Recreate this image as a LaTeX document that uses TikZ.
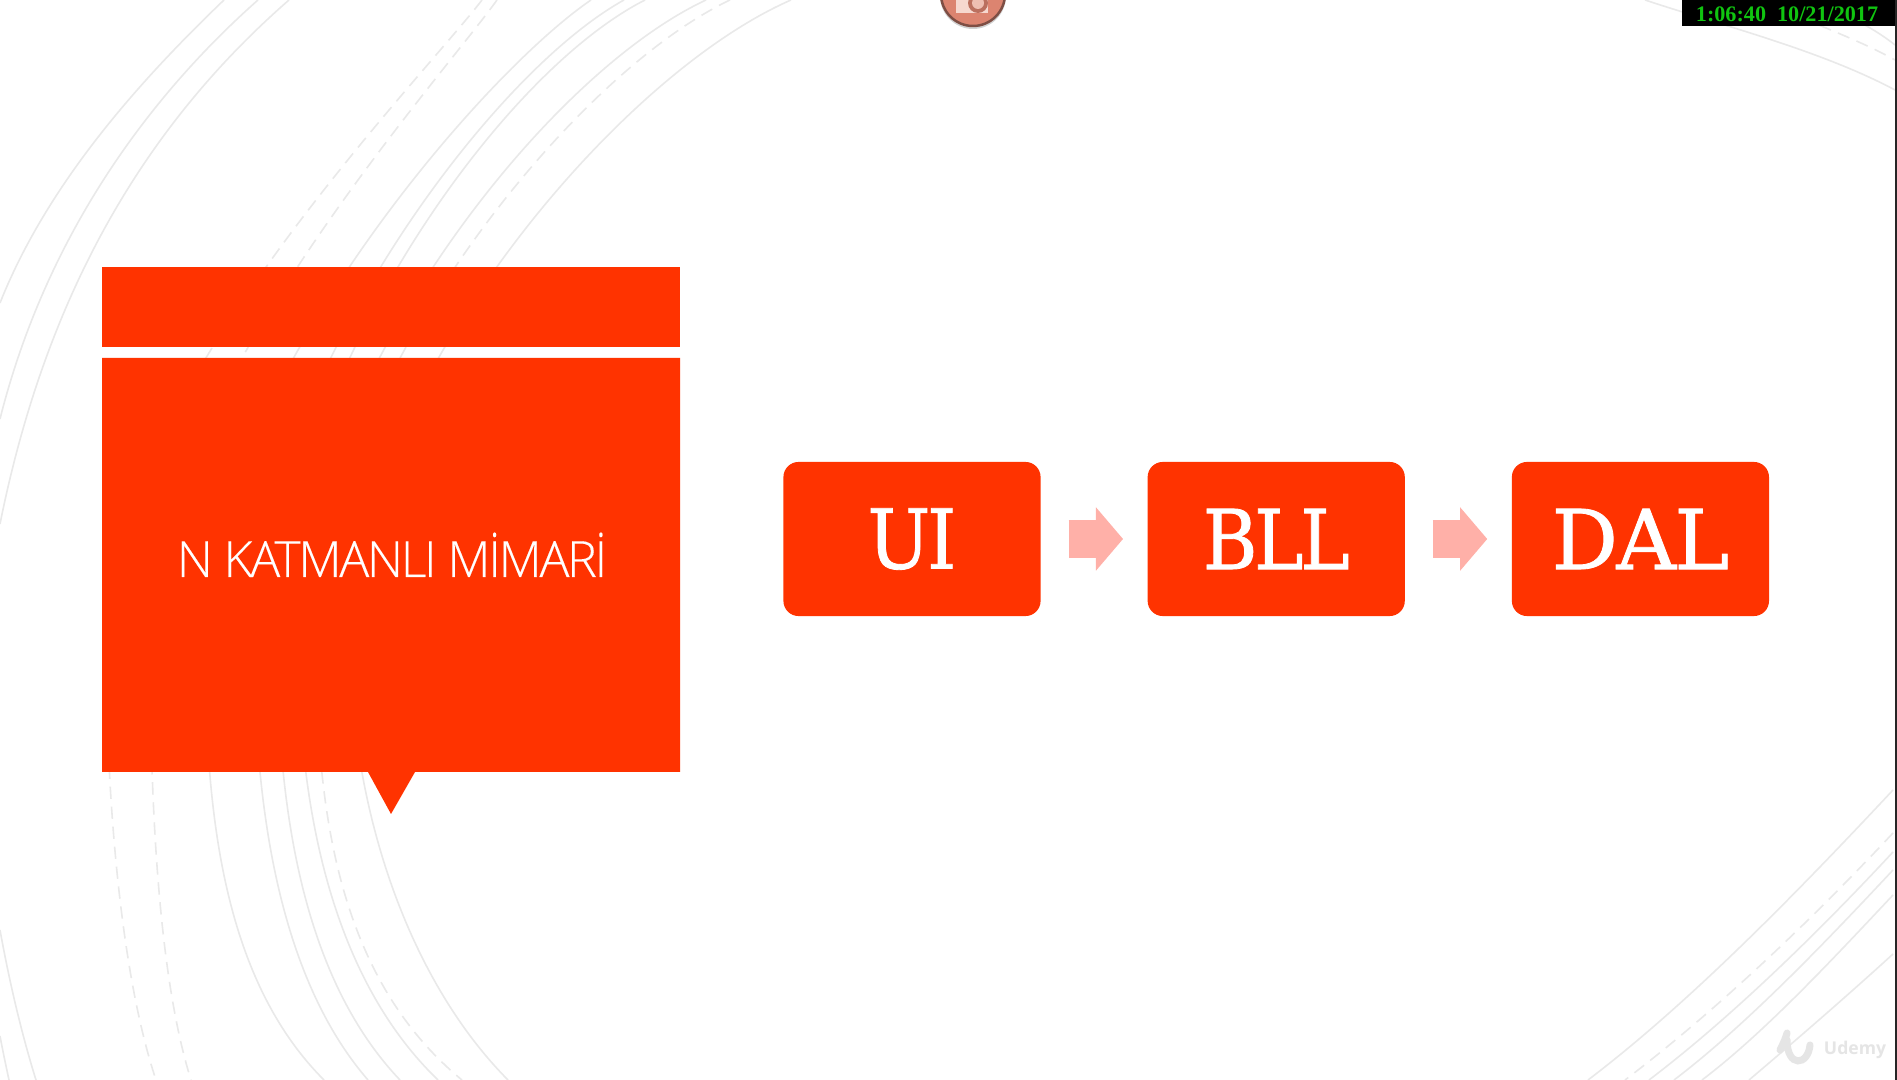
\documentclass[tikz,border=0pt]{standalone}
\usepackage{fontspec}
\usepackage{xcolor}
\usetikzlibrary{positioning,arrows.meta}
\setmainfont{Liberation Serif}
\newfontfamily\titlefont[LetterSpace=-4.5,FakeBold=.2]{Open Sans Light}
\newfontfamily\slabfont[LetterSpace=-4,FakeStretch=.9,FakeBold=1]{DejaVu Serif}
\newfontfamily\slabwide[LetterSpace=-2,FakeBold=1]{DejaVu Serif}
\newfontfamily\markfont{Open Sans}
\definecolor{slidered}{HTML}{FF3300}
\definecolor{arrowpink}{HTML}{FFB0A8}
\definecolor{arcgray}{HTML}{E9E9E9}
\definecolor{clockgreen}{HTML}{10C410}
\definecolor{buttonred}{HTML}{DC8470}
\definecolor{buttonrim}{HTML}{7E4E44}
\definecolor{iconpale}{HTML}{F6D8CF}
\tikzset{
  arc/.style={draw=arcgray,line width=.45pt},
  arcdash/.style={arc,dash pattern=on 3.5pt off 2.2pt},
  layerbox/.style={fill=slidered,inner sep=0pt,outer sep=0pt,rounded corners=4.3pt,minimum width=2.57cm,minimum height=1.54cm,text=white,font=\slabfont\fontsize{23.5}{28}\selectfont},
  flowarrow/.style={draw=arrowpink,line width=10.8pt,-{Triangle[length=7.7pt,width=17.6pt]},shorten <=8pt,shorten >=7pt}
}
\begin{document}
\begin{tikzpicture}[x=.01cm,y=-.01cm]
\useasboundingbox (0,0) rectangle (1897,1080);
\fill[white] (0,0) rectangle (1897,1080);
% arcs behind the panel
\foreach \tx/\ca/\lx/\cb/\bx/\sty in {482/421/106/121/156/arcdash,497/440/150/158/191/arcdash,591/474/205/219/324/arc,624/480/254/277/368/arc,645/488/277/300/400/arc,706/535/298/329/438/arc,730/562/316/334/462/arcdash,791/608/350/404/508/arc}
  \draw[\sty] (\tx,0) .. controls (\ca,80) and (\lx,400) .. (\lx,640) .. controls (\lx,800) and (\cb,975) .. (\bx,1080);
% left edge
\draw[arc] (224,0) .. controls (130,90) and (45,190) .. (0,303);
\draw[arc] (258,0) .. controls (145,100) and (45,240) .. (0,419);
\draw[arc] (289,0) .. controls (140,130) and (45,300) .. (0,524);
\draw[arc] (0,930) .. controls (10,985) and (22,1035) .. (36,1080);
\draw[arc] (0,1036) .. controls (3,1052) and (6,1066) .. (9,1080);
% bottom right
\draw[arc] (1893,790) .. controls +(-100,107) and +(100,-76) .. (1588,1080);
\draw[arcdash] (1893,833) .. controls +(-87,93) and +(87,-66) .. (1625,1080);
\draw[arc] (1893,852) .. controls +(-79,85) and +(79,-60) .. (1649,1080);
\draw[arc] (1893,870) .. controls +(-71,76) and +(71,-54) .. (1674,1080);
\draw[arc] (1893,895) .. controls +(-62,66) and +(62,-47) .. (1702,1080);
\draw[arc] (1893,954) .. controls +(-46,42) and +(46,-39) .. (1749,1080);
% top right
\draw[arc] (1645,0) .. controls (1720,25) and (1820,50) .. (1895,90);
\draw[arcdash] (1765,0) .. controls (1800,20) and (1850,35) .. (1895,60);
\draw[arc] (1810,0) .. controls (1840,12) and (1870,25) .. (1895,45);
% screen edge
\fill[black!85] (1895,0) rectangle (1897,1080);
% title panel
\fill[slidered] (102,267) rectangle (680,347);
\fill[slidered] (102,358) -- (680,358) -- (680,772) -- (415,772) -- (391,814) -- (368,772) -- (102,772) -- cycle;
\node[anchor=base,text=white,font=\titlefont\fontsize{14.2}{17}\selectfont] (title) at (392,577) {N KATMANLI MİMARİ};
% layers
\node[layerbox] (ui) at (912,539) {UI};
\node[layerbox,right=1.07cm of ui] (bll) {BLL};
\node[layerbox,right=1.07cm of bll,font=\slabwide\fontsize{23.5}{28}\selectfont] (dal) {DAL};
\draw[flowarrow] (ui) -- (bll);
\draw[flowarrow] (bll) -- (dal);
% capture overlays
\fill[black!18] (973,-4) circle (33);
\fill[buttonred,draw=buttonrim,line width=.7pt] (973,-6) circle (32);
\fill[iconpale] (956,0) rectangle (988,13);
\fill[buttonred!85!black] (978,3) circle (10);
\fill[iconpale!70!buttonred] (978,3) circle (6);
\fill[black] (1682,0) rectangle (1895,26);
\node[text=clockgreen,font=\bfseries\fontsize{6.3}{8}\selectfont] (clock) at (1787,14) {1:06:40\ \ 10/21/2017};
\draw[draw=black!10,line width=2pt,line cap=round] (1780,1050) .. controls (1784,1042) and (1786,1037) .. (1787,1033);
\draw[draw=black!10,line width=2pt,line cap=round] (1787,1040) .. controls (1787,1068) and (1808,1066) .. (1810,1045);
\node[text=black!10,font=\markfont\bfseries\fontsize{5}{6}\selectfont] (mark) at (1855,1050) {Udemy};
\end{tikzpicture}
\end{document}
